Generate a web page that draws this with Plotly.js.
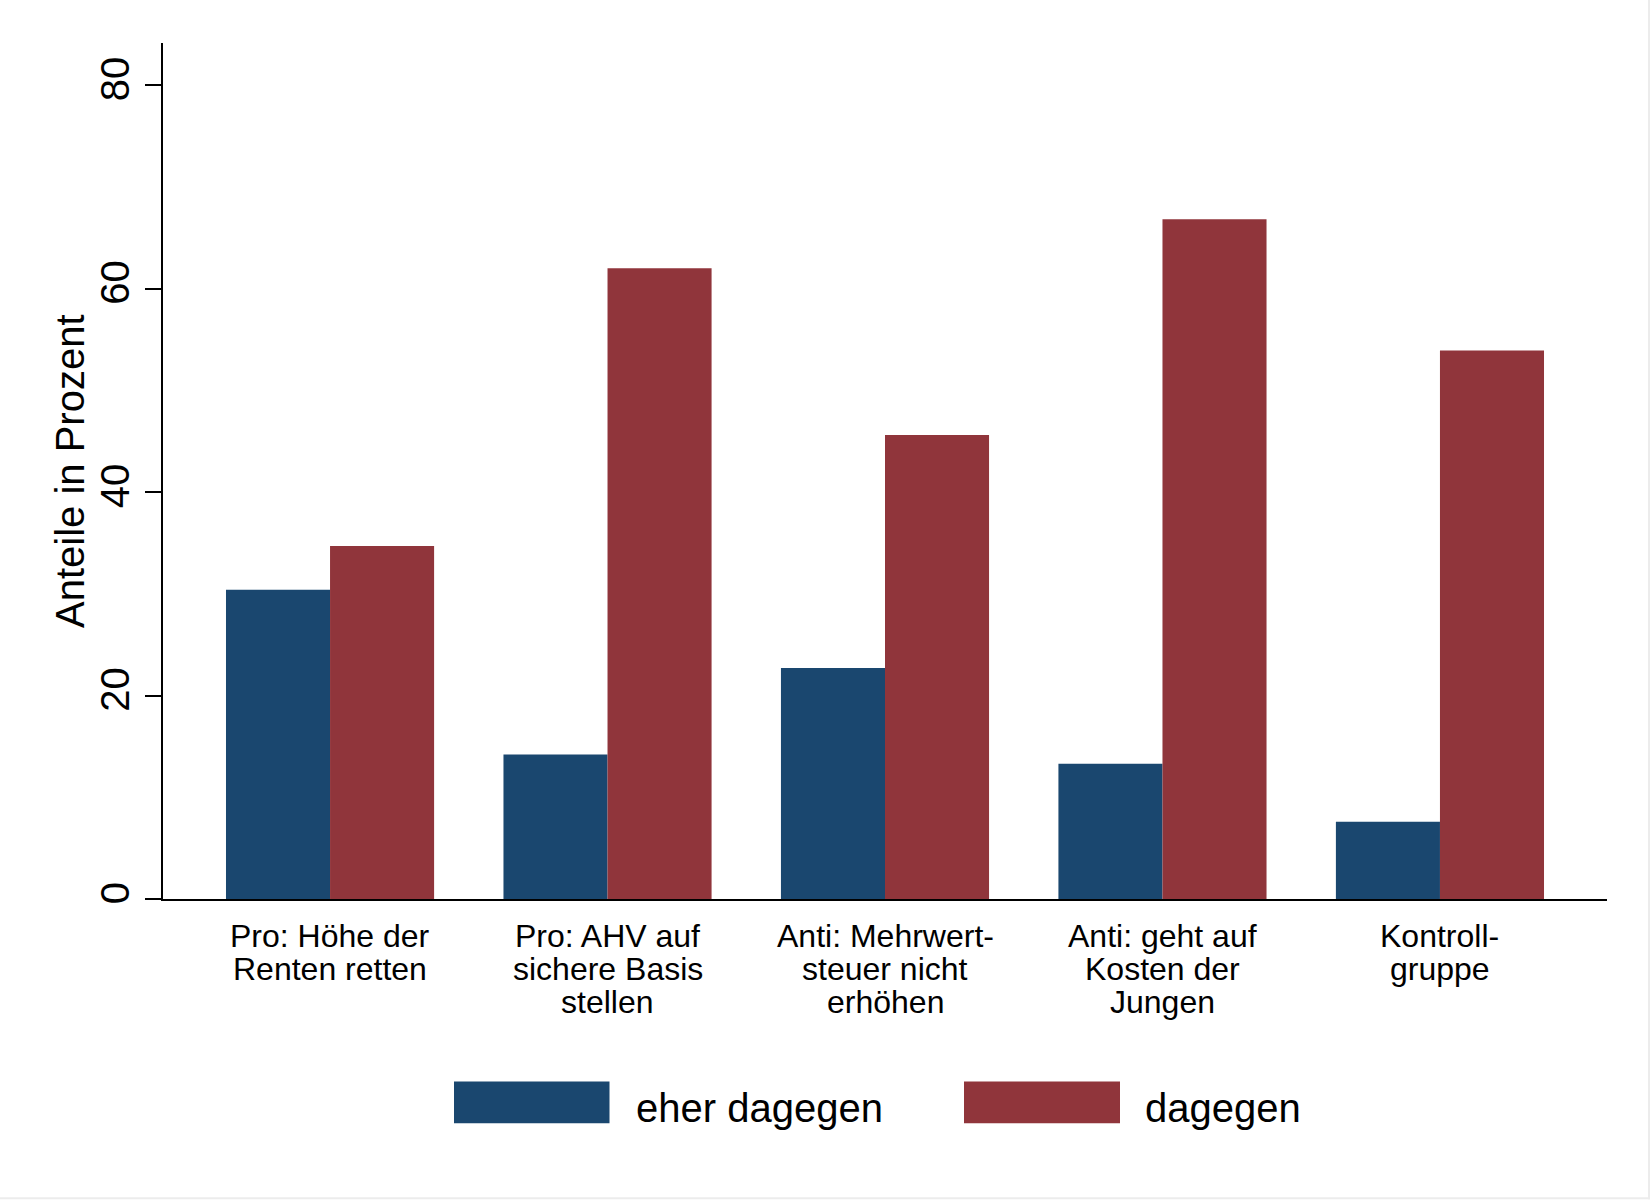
<!DOCTYPE html>
<html>
<head>
<meta charset="utf-8">
<script src="https://cdn.plot.ly/plotly-3.0.1.min.js"></script>
<style>html,body{margin:0;padding:0;background:#fff;}</style>
</head>
<body>
<div id="chart" style="width:1650px;height:1200px;"></div>
<script>
// ---- data ----
const categories = [
  "Pro: Höhe der<br>Renten retten",
  "Pro: AHV auf<br>sichere Basis<br>stellen",
  "Anti: Mehrwert-<br>steuer nicht<br>erhöhen",
  "Anti: geht auf<br>Kosten der<br>Jungen",
  "Kontroll-<br>gruppe"
];
const seriesNames = ["eher dagegen", "dagegen"];
const eherDagegen = [30.4, 14.2, 22.7, 13.3, 7.6];
const dagegen = [34.7, 62.0, 45.6, 66.8, 53.9];
const yTicks = [0, 20, 40, 60, 80];
const yTitle = "Anteile in Prozent";

// ---- style ----
const colors = ["#1a476f", "#90353b"];
const FONT = "Liberation Sans, Arial, Helvetica, sans-serif";
const W = 1650, H = 1200;
const M = {l: 163, r: 43, t: 43, b: 300.5};
const plotW = W - M.l - M.r, plotH = H - M.t - M.b;
const px2paperX = px => (px - M.l) / plotW;
const px2paperY = py => (H - M.b - py) / plotH;

const traces = [
  {type: "bar", name: seriesNames[0], x: categories, y: eherDagegen,
   marker: {color: colors[0], line: {width: 0}}, hoverinfo: "x+y"},
  {type: "bar", name: seriesNames[1], x: categories, y: dagegen,
   marker: {color: colors[1], line: {width: 0}}, hoverinfo: "x+y"}
];

// category labels, one annotation per line (tight Stata-like line spacing)
const annotations = [];
categories.forEach((c, i) => {
  c.split("<br>").forEach((line, j) => {
    annotations.push({
      x: c, xref: "x", y: 0, yref: "paper",
      xanchor: "center", yanchor: "middle",
      yshift: -37 - 33 * j,
      text: line, showarrow: false,
      font: {family: FONT, size: 32, color: "#000"}
    });
  });
});

// y axis title (placed like Stata's)
annotations.push({
  x: px2paperX(70), xref: "paper", y: 0.5, yref: "paper",
  xanchor: "center", yanchor: "middle", textangle: -90,
  text: yTitle, showarrow: false,
  font: {family: FONT, size: 40, color: "#000"}
});

// custom legend (large Stata-style keys)
const legendKeys = [
  {x0: 454, x1: 609.5, tx: 634},
  {x0: 964, x1: 1120, tx: 1143}
];
const shapes = [];
legendKeys.forEach((k, i) => {
  shapes.push({
    type: "rect", xref: "paper", yref: "paper",
    x0: px2paperX(k.x0), x1: px2paperX(k.x1),
    y0: px2paperY(1124), y1: px2paperY(1082),
    fillcolor: colors[i], line: {width: 0}
  });
  annotations.push({
    x: px2paperX(k.tx), xref: "paper", y: px2paperY(1109), yref: "paper",
    xanchor: "left", yanchor: "middle",
    text: seriesNames[i], showarrow: false,
    font: {family: FONT, size: 40, color: "#000"}
  });
});

// faint image border at right and bottom edges
shapes.push({type: "line", xref: "paper", yref: "paper",
  x0: px2paperX(1649), x1: px2paperX(1649), y0: px2paperY(0), y1: px2paperY(1200),
  line: {color: "#ececec", width: 2}});
shapes.push({type: "line", xref: "paper", yref: "paper",
  x0: px2paperX(0), x1: px2paperX(1650), y0: px2paperY(1199), y1: px2paperY(1199),
  line: {color: "#ececec", width: 2}});

const layout = {
  width: W, height: H,
  margin: M,
  paper_bgcolor: "#ffffff",
  plot_bgcolor: "#ffffff",
  font: {family: FONT, color: "#000"},
  showlegend: false,
  barmode: "group",
  bargap: 0.25,
  bargroupgap: 0,
  xaxis: {
    type: "category",
    range: [-0.602, 4.602],
    showticklabels: false,
    ticks: "",
    showgrid: false,
    zeroline: false,
    showline: true, linecolor: "#000", linewidth: 2,
    fixedrange: true
  },
  yaxis: {
    range: [0, 84.13],
    tickvals: yTicks,
    ticktext: yTicks.map(String),
    tickangle: -90,
    ticks: "outside", ticklen: 16, tickwidth: 2, tickcolor: "#000",
    tickfont: {family: FONT, size: 40, color: "#000"},
    ticklabelstandoff: 0,
    showgrid: false,
    zeroline: false,
    showline: true, linecolor: "#000", linewidth: 2,
    automargin: false,
    fixedrange: true
  },
  shapes: shapes,
  annotations: annotations
};

Plotly.newPlot("chart", traces, layout, {displayModeBar: false, staticPlot: true});
</script>
</body>
</html>
